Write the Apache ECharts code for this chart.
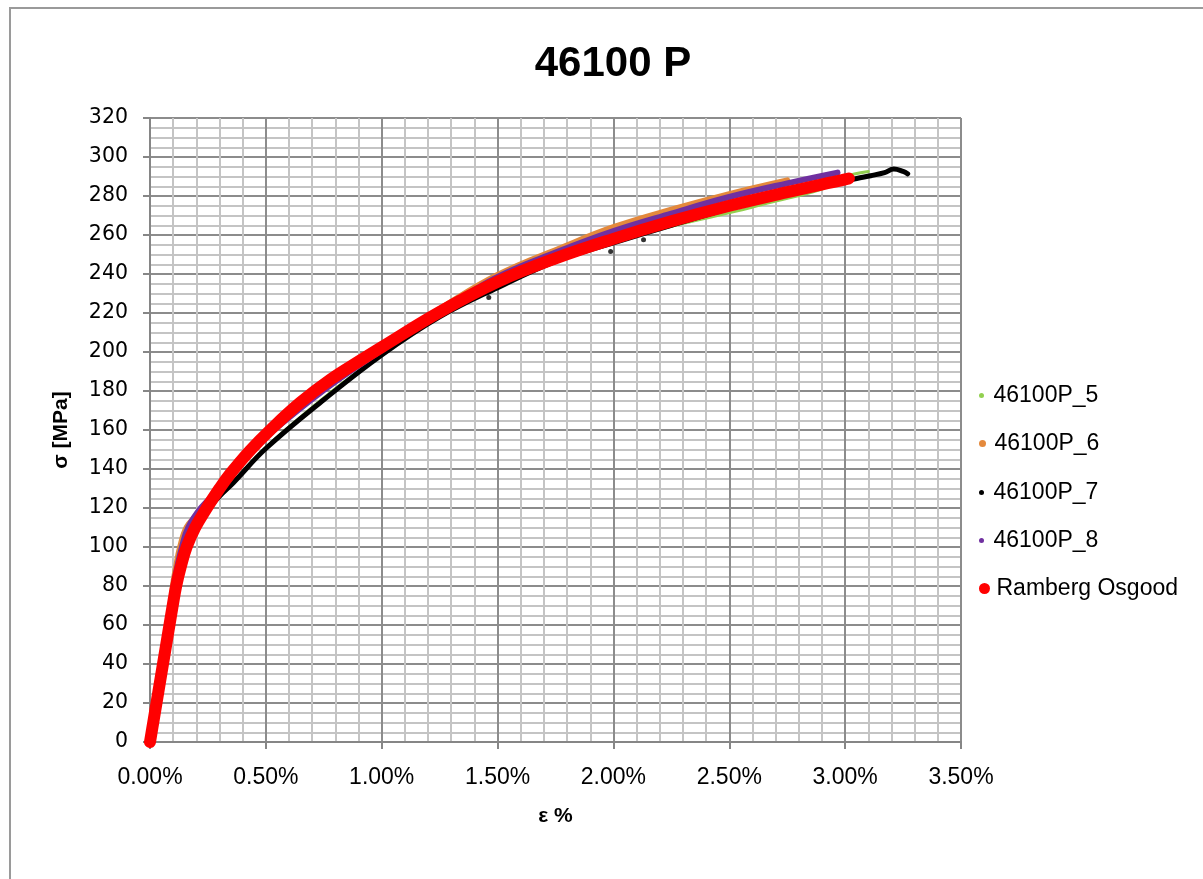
<!DOCTYPE html>
<html>
<head>
<meta charset="utf-8">
<script src="https://cdn.jsdelivr.net/npm/echarts@6/dist/echarts.min.js"></script>
<style>
  html, body { margin: 0; padding: 0; background: #fff; }
  #chart { width: 1203px; height: 879px; }
</style>
</head>
<body>
<div id="chart"></div>
<script>
// Tensile test curves of alloy 46100 (strain in %, stress in MPa)
const seriesNames = ['46100P_5', '46100P_6', '46100P_7', '46100P_8', 'Ramberg Osgood'];

const strain5 = [0, 0.028, 0.056, 0.084, 0.113, 0.158, 0.25, 0.36, 0.5, 0.75, 1.0, 1.25, 1.5, 1.75, 2.0, 2.25, 2.56, 2.665, 2.9, 2.97, 3.04, 3.1];
const stress5 = [0, 20, 40, 60, 80, 100, 119.5, 133.5, 151, 176.5, 199, 219, 233.5, 246.5, 256, 264.5, 273, 276.4, 283.6, 288.5, 291.3, 292.6];

const strain6 = [0, 0.028, 0.056, 0.084, 0.099, 0.113, 0.13, 0.158, 0.2, 0.25, 0.3, 0.4, 0.5, 0.75, 1.0, 1.25, 1.5, 1.786, 2.0, 2.25, 2.5, 2.75];
const stress6 = [0, 20, 40, 61, 80, 90, 100, 110, 116, 122, 129.5, 145, 157.5, 182, 203, 222, 239.5, 254, 264, 273, 281, 288];

const strain7 = [0, 0.028, 0.056, 0.084, 0.113, 0.158, 0.25, 0.3, 0.36, 0.5, 0.75, 1.0, 1.25, 1.5, 1.75, 2.0, 2.25, 2.5, 2.75, 3.0, 3.05, 3.11, 3.17, 3.21, 3.25, 3.27];
const stress7 = [0, 20, 40, 60, 80, 100, 119, 126, 133, 150.5, 175.5, 198.5, 218, 233, 246.5, 256, 265, 273.5, 281, 287.5, 289, 290.4, 292, 293.8, 292.6, 291.4];
// isolated readings of specimen 7 lying below the main curve
const strain7Dots = [1.462, 1.988, 2.13];
const stress7Dots = [228, 251.6, 257.6];

const strain8 = [0, 0.028, 0.056, 0.084, 0.102, 0.118, 0.138, 0.165, 0.22, 0.3, 0.4, 0.5, 0.75, 1.0, 1.25, 1.5, 1.75, 2.0, 2.25, 2.5, 2.75, 2.967];
const stress8 = [0, 20, 40, 60, 80, 90, 100, 110, 120, 130, 145, 156.5, 180.5, 201, 220.5, 238.5, 251, 262, 271, 279.5, 286.5, 292];

const strainRO = [0, 0.014, 0.028, 0.042, 0.056, 0.070, 0.084, 0.098, 0.113, 0.133, 0.158, 0.195, 0.245, 0.300, 0.346, 0.432, 0.519, 0.648, 0.778, 0.908, 1.0, 1.25, 1.5, 1.75, 2.0, 2.25, 2.5, 2.75, 3.0, 3.016];
const stressRO = [0, 10, 20, 30, 40, 50, 60, 70, 80, 90, 100, 110, 120, 130, 137.5, 149.5, 160, 174, 185.8, 195.7, 202.5, 220.5, 236, 248, 258, 267, 275, 282, 288.5, 289];

// axis ranges and ticks
const xMin = 0, xMax = 3.5, xStep = 0.5;
const yMin = 0, yMax = 320, yStep = 20;

const zip = (xs, ys) => xs.map((x, i) => [x, ys[i]]);

const colors = {
  '46100P_5': '#92d050',
  '46100P_6': '#e4893c',
  '46100P_7': '#000000',
  '46100P_8': '#7030a0',
  'Ramberg Osgood': '#ff0000'
};

const chart = echarts.init(document.getElementById('chart'), null, { renderer: 'canvas' });

const gridColorMajor = '#8c8c8c';
const gridColorMinor = '#c4c4c4';

function curve(name, data, width) {
  return {
    name: name,
    type: 'line',
    data: data,
    showSymbol: false,
    symbol: 'circle',
    smooth: 0.4,
    color: colors[name],
    lineStyle: { color: colors[name], width: width, cap: 'round', join: 'round' },
    emphasis: { disabled: true },
    z: 3
  };
}

// one legend block per entry so each marker can have its own size
const legendRows = [
  { name: '46100P_5', y: 392, size: 5 },
  { name: '46100P_6', y: 440, size: 7 },
  { name: '46100P_7', y: 489, size: 5 },
  { name: '46100P_8', y: 537, size: 5 },
  { name: 'Ramberg Osgood', y: 585, size: 11 }
];

const legends = legendRows.map(r => ({
  data: [{ name: r.name, icon: 'circle' }],
  orient: 'vertical',
  left: 974,
  top: r.y - 13,
  itemWidth: 14,
  itemHeight: r.size,
  selectedMode: false,
  textStyle: { fontFamily: 'Liberation Sans', fontSize: 23, color: '#000' }
}));

const option = {
  animation: false,
  backgroundColor: '#ffffff',
  title: {
    text: '46100 P',
    left: 608,
    textAlign: 'center',
    top: 38,
    textStyle: { fontFamily: 'Liberation Sans', fontWeight: 'bold', fontSize: 42, color: '#000' }
  },
  legend: legends,
  grid: {
    left: 150, right: 242, top: 118, bottom: 137,
    containLabel: false,
    outerBoundsMode: 'none',
    show: false
  },
  xAxis: {
    type: 'value',
    min: xMin, max: xMax, interval: xStep,
    name: 'ε %',
    nameLocation: 'middle',
    nameGap: 64,
    nameTextStyle: { fontFamily: 'Liberation Sans', fontWeight: 'bold', fontSize: 21, color: '#000' },
    axisLine: { show: true, lineStyle: { color: '#868686', width: 2 } },
    axisTick: { show: true, length: 7, lineStyle: { color: '#868686', width: 2 } },
    minorTick: { show: false, splitNumber: 5 },
    axisLabel: {
      margin: 24,
      fontFamily: 'Liberation Sans', fontSize: 23, color: '#000',
      formatter: v => v.toFixed(2) + '%'
    },
    splitLine: { show: true, lineStyle: { color: gridColorMajor, width: 2 } },
    minorSplitLine: { show: true, lineStyle: { color: gridColorMinor, width: 2 } }
  },
  yAxis: {
    type: 'value',
    min: yMin, max: yMax, interval: yStep,
    name: 'σ [MPa]',
    nameLocation: 'middle',
    nameGap: 78,
    nameRotate: 90,
    nameTextStyle: { fontFamily: 'Liberation Sans', fontWeight: 'bold', fontSize: 21, color: '#000' },
    axisLine: { show: true, lineStyle: { color: '#868686', width: 2 } },
    axisTick: { show: true, length: 7, lineStyle: { color: '#868686', width: 2 } },
    minorTick: { show: false, splitNumber: 4 },
    axisLabel: { margin: 22, fontFamily: 'DejaVu Sans', fontSize: 20.5, color: '#000' },
    splitLine: { show: true, lineStyle: { color: gridColorMajor, width: 2 } },
    minorSplitLine: { show: true, lineStyle: { color: gridColorMinor, width: 2 } }
  },
  graphic: [{
    type: 'rect',
    shape: { x: 10, y: 8, width: 1210, height: 900 },
    style: { fill: 'none', stroke: '#9a9a9a', lineWidth: 2 },
    silent: true,
    z: -10
  }],
  series: [
    curve('46100P_5', zip(strain5, stress5), 3),
    curve('46100P_6', zip(strain6, stress6), 6),
    curve('46100P_7', zip(strain7, stress7), 5),
    {
      name: '46100P_7',
      type: 'scatter',
      data: zip(strain7Dots, stress7Dots),
      symbol: 'circle',
      symbolSize: 5,
      color: colors['46100P_7'],
      itemStyle: { color: colors['46100P_7'] },
      emphasis: { disabled: true },
      z: 3
    },
    curve('46100P_8', zip(strain8, stress8), 6),
    curve('Ramberg Osgood', zip(strainRO, stressRO), 12)
  ]
};

chart.setOption(option);
</script>
</body>
</html>
